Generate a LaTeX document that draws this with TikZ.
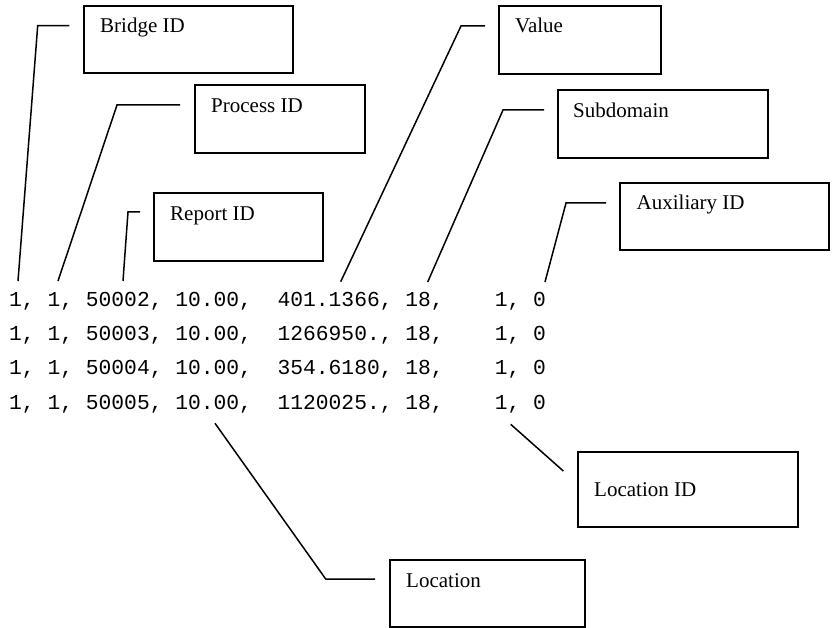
\documentclass[tikz,border=0pt]{standalone}
\usepackage{fontspec}
\setmainfont{Liberation Serif}
\newfontfamily\codefont{Liberation Mono}
\begin{document}
\begin{tikzpicture}[x=1pt,y=-1pt,
  box/.style={draw=black,line width=1.7pt,rectangle,inner sep=0pt,anchor=north west},
  lbl/.style={anchor=base west,inner sep=0pt,font=\fontsize{21}{25}\selectfont},
  row/.style={anchor=base west,inner sep=0pt,font=\codefont\fontsize{21.3}{25}\selectfont},
  conn/.style={draw=black,line width=1.5pt}]
\useasboundingbox (0,0) rectangle (832,628);
% boxes
\node[box,minimum width=209pt,minimum height=67pt] (bridge) at (83,5.5) {};
\node[box,minimum width=170pt,minimum height=68pt] (process) at (194,84) {};
\node[box,minimum width=169pt,minimum height=68pt] (report) at (153,192) {};
\node[box,minimum width=162pt,minimum height=68pt] (value) at (498,5) {};
\node[box,minimum width=210pt,minimum height=68pt] (subdomain) at (557,89) {};
\node[box,minimum width=209pt,minimum height=67pt] (aux) at (619,182) {};
\node[box,minimum width=220pt,minimum height=75pt] (locid) at (577,451) {};
\node[box,minimum width=195pt,minimum height=67pt] (loc) at (389,559) {};
% labels
\node[lbl] (bridgeT) at (100,33) {Bridge ID};
\node[lbl] (processT) at (211,112.7) {Process ID};
\node[lbl] (reportT) at (170,220.7) {Report ID};
\node[lbl] (valueT) at (515,33) {Value};
\node[lbl] (subdomainT) at (573,118) {Subdomain};
\node[lbl] (auxT) at (636.5,210) {Auxiliary ID};
\node[lbl] (locidT) at (594,496) {Location ID};
\node[lbl] (locT) at (406,587) {Location};
% data rows
\node[row] (r1) at (9,306.5) {1,\ 1,\ 50002,\ 10.00,\ \ 401.1366,\ 18,\ \ \ \ 1,\ 0};
\node[row] (r2) at (9,340.7) {1,\ 1,\ 50003,\ 10.00,\ \ 1266950.,\ 18,\ \ \ \ 1,\ 0};
\node[row] (r3) at (9,374.9) {1,\ 1,\ 50004,\ 10.00,\ \ 354.6180,\ 18,\ \ \ \ 1,\ 0};
\node[row] (r4) at (9,409.1) {1,\ 1,\ 50005,\ 10.00,\ \ 1120025.,\ 18,\ \ \ \ 1,\ 0};
% connector end points
\coordinate (cBa) at (18,281);   \coordinate (cBb) at (37.7,25.7);  \coordinate (cBc) at (69.3,25.7);
\coordinate (cPa) at (58,281);   \coordinate (cPb) at (117,105);    \coordinate (cPc) at (180,105);
\coordinate (cRa) at (123,281);  \coordinate (cRb) at (128,212);    \coordinate (cRc) at (140,212);
\coordinate (cVa) at (340.7,281.7); \coordinate (cVb) at (461,26);  \coordinate (cVc) at (485,26);
\coordinate (cSa) at (427.7,282); \coordinate (cSb) at (503,110);   \coordinate (cSc) at (544,110);
\coordinate (cAa) at (545,282);  \coordinate (cAb) at (566,203);    \coordinate (cAc) at (606,203);
\coordinate (cIa) at (510.7,424.3); \coordinate (cIb) at (563.3,471);
\coordinate (cLa) at (215,423.3); \coordinate (cLb) at (325.7,579); \coordinate (cLc) at (375,579);
% connectors
\draw[conn] (cBa) -- (cBb) -- (cBc);
\draw[conn] (cPa) -- (cPb) -- (cPc);
\draw[conn] (cRa) -- (cRb) -- (cRc);
\draw[conn] (cVa) -- (cVb) -- (cVc);
\draw[conn] (cSa) -- (cSb) -- (cSc);
\draw[conn] (cAa) -- (cAb) -- (cAc);
\draw[conn] (cIa) -- (cIb);
\draw[conn] (cLa) -- (cLb) -- (cLc);
\end{tikzpicture}
\end{document}
